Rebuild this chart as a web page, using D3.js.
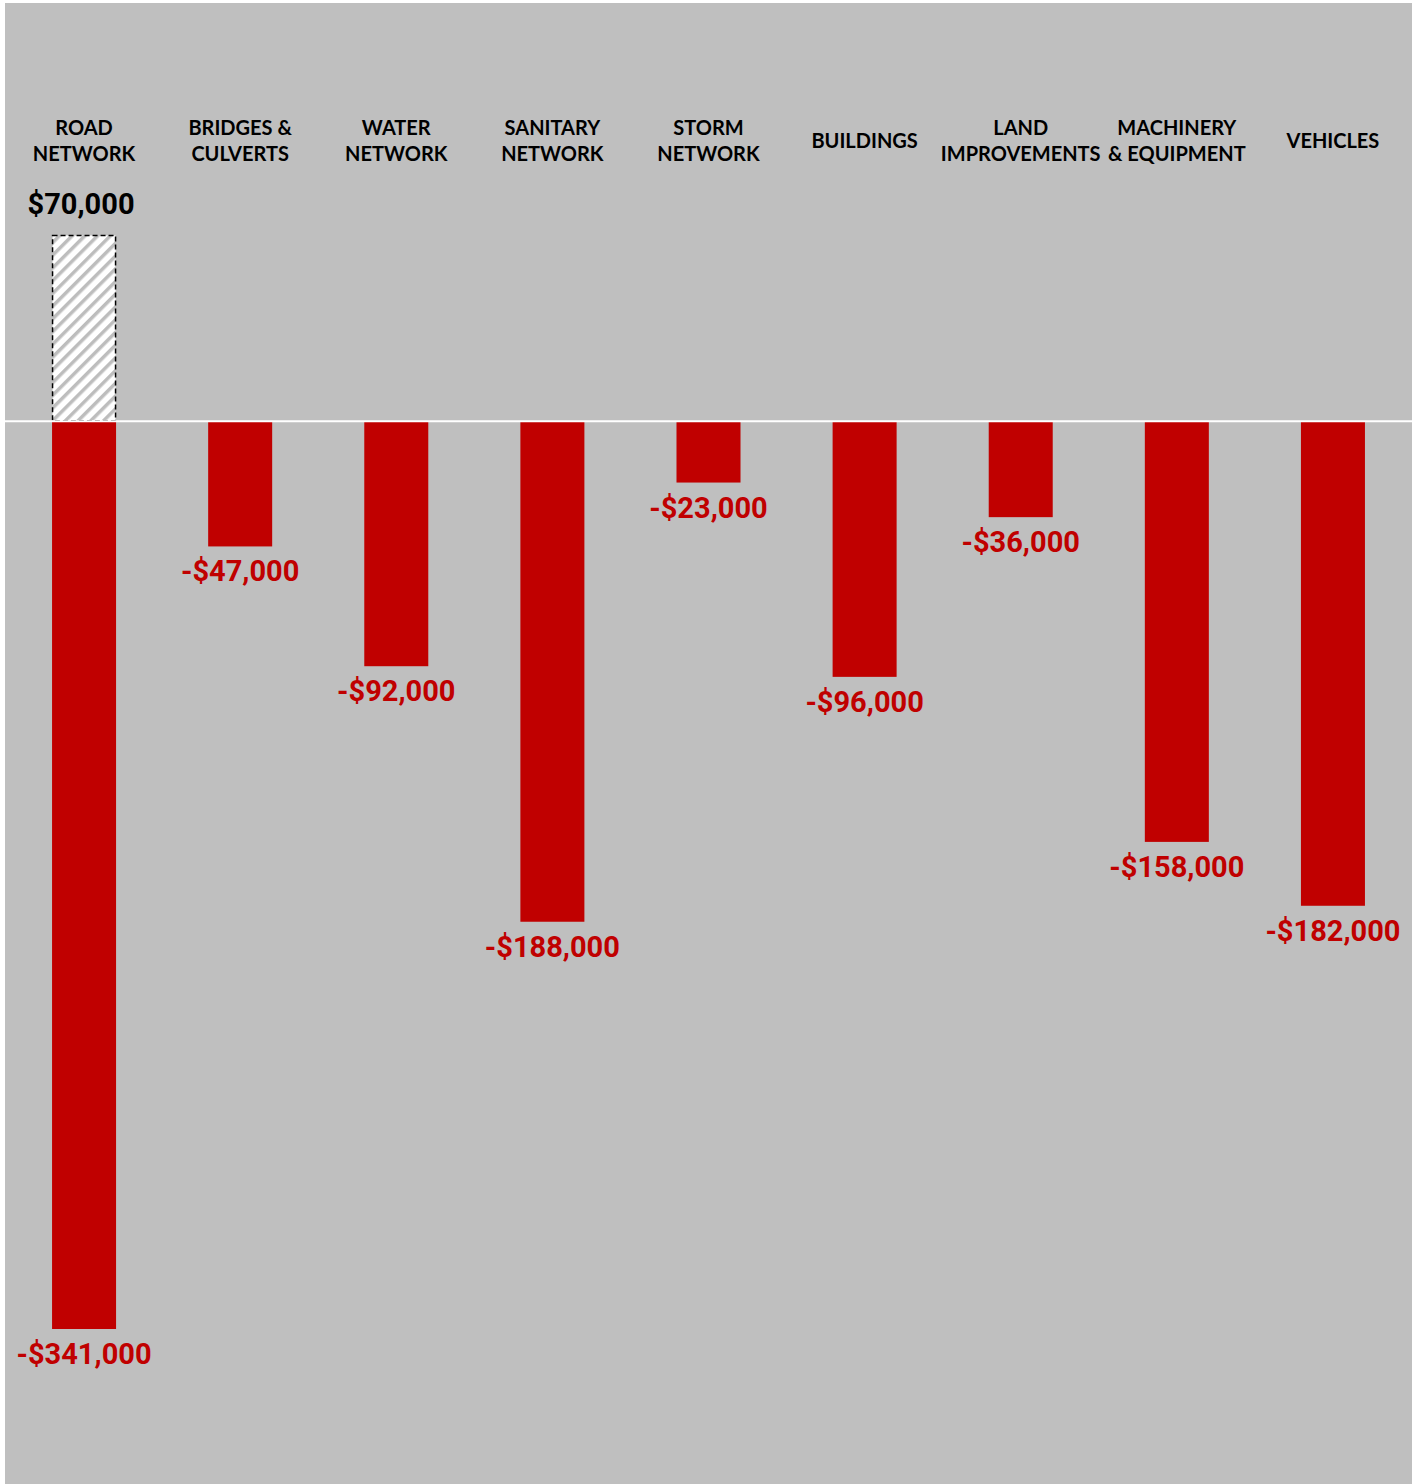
<!DOCTYPE html>
<html><head><meta charset="utf-8">
<script src="https://cdn.jsdelivr.net/npm/d3@7"></script>
<style>html,body{margin:0;padding:0;background:#fff;}</style>
</head><body>
<svg id="chart" width="1422" height="1484"></svg>
<script>
const categories = ["ROAD NETWORK","BRIDGES & CULVERTS","WATER NETWORK","SANITARY NETWORK","STORM NETWORK","BUILDINGS","LAND IMPROVEMENTS","MACHINERY & EQUIPMENT","VEHICLES"];
const categoryLines = [["ROAD","NETWORK"],["BRIDGES &","CULVERTS"],["WATER","NETWORK"],["SANITARY","NETWORK"],["STORM","NETWORK"],["BUILDINGS"],["LAND","IMPROVEMENTS"],["MACHINERY","& EQUIPMENT"],["VEHICLES"]];
const deficitValues = [-341000,-47000,-92000,-188000,-23000,-96000,-36000,-158000,-182000];
const surplusValues = [70000,0,0,0,0,0,0,0,0];

const fmt = v => (v<0?"-":"") + "$" + d3.format(",")(Math.abs(v));

const svg = d3.select("#chart");
const W = 1422, H = 1484;
const plot = {left:5, right:1412, top:3, bottom:1484};

svg.append("rect").attr("x",plot.left).attr("y",plot.top)
  .attr("width",plot.right-plot.left).attr("height",plot.bottom-plot.top)
  .attr("fill","#bfbfbf");

const defs = svg.append("defs");
const pat = defs.append("pattern").attr("id","hatch").attr("patternUnits","userSpaceOnUse")
  .attr("width",9).attr("height",9).attr("patternTransform","rotate(45)");
pat.append("rect").attr("width",9).attr("height",9).attr("fill","#ffffff");
pat.append("rect").attr("x",0).attr("y",0).attr("width",3.5).attr("height",9).attr("fill","#bdbdbd");

const x = d3.scaleBand().domain(categories).range([6,1411]).paddingInner(0.59).paddingOuter(0.295);
const y = d3.scaleLinear().domain([-341000,70000]).range([1329,235]);

const g = svg.append("g");

// deficit bars
g.selectAll("rect.def").data(categories).join("rect").attr("class","def")
  .attr("x",d=>x(d)).attr("width",x.bandwidth())
  .attr("y",y(0)).attr("height",(d,i)=>y(deficitValues[i])-y(0))
  .attr("fill","#c00000");

// surplus bars
categories.forEach((c,i)=>{
  const v = surplusValues[i];
  if(v>0){
    g.append("rect").attr("x",x(c)+0.5).attr("width",x.bandwidth()-1)
      .attr("y",y(v)+0.5).attr("height",y(0)-y(v)-1)
      .attr("fill","url(#hatch)").attr("stroke","#000").attr("stroke-width",1.5)
      .attr("stroke-dasharray","5,3");
    g.append("text").attr("x",x(c)+x.bandwidth()/2-3).attr("y",y(v)-21)
      .attr("text-anchor","middle").attr("font-family","Roboto").attr("font-weight",700)
      .attr("font-size",29).attr("fill","#000").text(fmt(v));
  }
});

// zero line
svg.append("line").attr("x1",plot.left).attr("x2",plot.right).attr("y1",y(0)).attr("y2",y(0))
  .attr("stroke","#ffffff").attr("stroke-width",2);

// deficit labels
g.selectAll("text.dl").data(categories).join("text").attr("class","dl")
  .attr("x",d=>x(d)+x.bandwidth()/2).attr("y",(d,i)=>y(deficitValues[i])+35)
  .attr("text-anchor","middle").attr("font-family","Roboto").attr("font-weight",700)
  .attr("font-size",29).attr("fill","#c00000").text((d,i)=>fmt(deficitValues[i]));

// category labels
categories.forEach((c,i)=>{
  const lines = categoryLines[i];
  const cx = x(c)+x.bandwidth()/2;
  const lh = 26;
  const base = 148 - (lines.length-1)*lh/2;
  const t = svg.append("text").attr("text-anchor","middle").attr("font-family","Lato")
    .attr("font-weight",700).attr("font-size",20).attr("fill","#000");
  lines.forEach((l,j)=>t.append("tspan").attr("x",cx).attr("y",base+j*lh).text(l));
});
</script>
</body></html>
